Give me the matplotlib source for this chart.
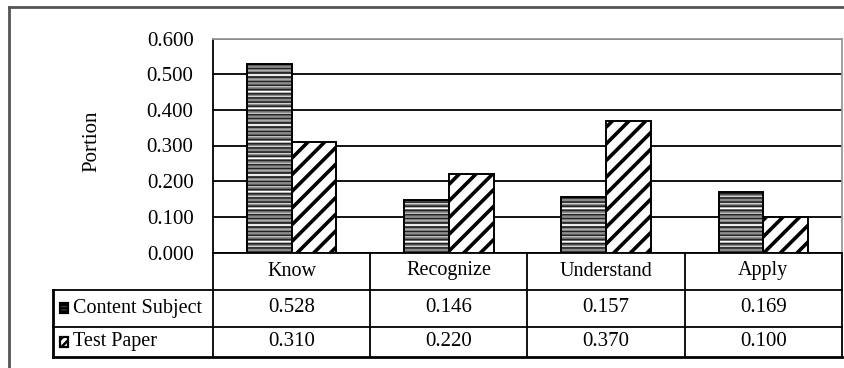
import matplotlib
matplotlib.use("Agg")
import matplotlib.pyplot as plt
from matplotlib.patches import Rectangle
from matplotlib.lines import Line2D
import matplotlib.transforms as mtransforms
import numpy as np

categories = ["Know", "Recognize", "Understand", "Apply"]
series_names = ["Content Subject", "Test Paper"]
content_subject = [0.528, 0.146, 0.157, 0.169]
test_paper = [0.310, 0.220, 0.370, 0.100]
yticks = [0.0, 0.1, 0.2, 0.3, 0.4, 0.5, 0.6]

plt.rcParams['font.family'] = ['Liberation Serif', 'DejaVu Serif']

W, H = 845, 368
fig = plt.figure(figsize=(W / 100, H / 100), dpi=100)
ax_l, ax_r, ax_t, ax_b = 213, 842, 38.5, 252.5
ax = fig.add_axes([ax_l / W, 1 - ax_b / H, (ax_r - ax_l) / W, (ax_b - ax_t) / H])

x = np.arange(len(categories))
bw = 0.285

# Content Subject: grey with irregular white and black horizontal stripes
plt.rcParams['hatch.linewidth'] = 1.2
ax.bar(x - bw / 2, content_subject, bw, facecolor='#8a8a8a', edgecolor='white',
       hatch='---', linewidth=0, zorder=3)
ax.bar(x - bw / 2, content_subject, bw, facecolor='none', edgecolor='#222222',
       hatch='----', linewidth=0, zorder=3.1)
ax.bar(x - bw / 2, content_subject, bw, facecolor='none', edgecolor='black',
       linewidth=1.4, zorder=3.2)
plt.rcParams['hatch.linewidth'] = 2.6
ax.bar(x + bw / 2, test_paper, bw, facecolor='white', edgecolor='black',
       hatch='//', linewidth=1.4, zorder=3)

ax.set_xlim(-0.5, len(categories) - 0.5)
ax.set_ylim(0, 0.6)
ax.set_yticks(yticks)
ax.set_yticklabels([f"{v:.3f}" for v in yticks], fontsize=15)
ax.tick_params(axis='y', length=0, pad=14)
ax.set_xticks([])
ax.yaxis.grid(True, color='black', linewidth=1.3, zorder=0)
ax.set_axisbelow(True)
for s in ['top', 'right']:
    ax.spines[s].set_color('#9a9a9a')
    ax.spines[s].set_linewidth(1.3)
ax.spines['left'].set_linewidth(1.3)
ax.spines['bottom'].set_linewidth(1.3)

ax.text(-0.192, 0.52, "Portion", transform=ax.transAxes, rotation=90,
        ha='center', va='center', fontsize=15)

# table below the axes: x in data units, y in axes units
tr = mtransforms.blended_transform_factory(ax.transData, ax.transAxes)
ax_h = ax_b - ax_t
px_per_unit = (ax_r - ax_l) / len(categories)
def ypx(p):
    return -(p - ax_b) / ax_h
def xpx(p):
    return -0.5 + (p - ax_l) / px_per_unit

row_edges = [ypx(252.5), ypx(289.5), ypx(326.5), ypx(357)]
x_left_tab = xpx(53)
x_min, x_max = -0.5, len(categories) - 0.5

lk = dict(color='black', linewidth=1.3, transform=tr, clip_on=False)
ax.add_line(Line2D([x_left_tab, x_max], [row_edges[1]] * 2, **lk))
ax.add_line(Line2D([x_left_tab, x_max], [row_edges[2]] * 2, **lk))
ax.add_line(Line2D([x_left_tab, x_max], [row_edges[3]] * 2,
                   color='black', linewidth=2.0, transform=tr, clip_on=False))
for i in range(len(categories) + 1):
    ax.add_line(Line2D([x_min + i] * 2, [row_edges[0], row_edges[3]], **lk))
ax.add_line(Line2D([x_left_tab] * 2, [row_edges[1], row_edges[3]],
                   color='black', linewidth=2.0, transform=tr, clip_on=False))

def mid(a, b):
    return (a + b) / 2

for i, c in enumerate(categories):
    ax.text(x[i], mid(row_edges[0], row_edges[1]), c, transform=tr, ha='center',
            va='center', fontsize=14.5, clip_on=False)
    ax.text(x[i], mid(row_edges[1], row_edges[2]), f"{content_subject[i]:.3f}",
            transform=tr, ha='center', va='center', fontsize=15, clip_on=False)
    ax.text(x[i], mid(row_edges[2], row_edges[3]), f"{test_paper[i]:.3f}",
            transform=tr, ha='center', va='center', fontsize=15, clip_on=False)

# legend keys and series names
key_w = 8 / px_per_unit
key_h = 10 / ax_h
key_x = xpx(60)
plt.rcParams['hatch.linewidth'] = 1.8
for j, (name, hatch, fc) in enumerate(zip(series_names, ['-----', '////'], ['#555555', 'white'])):
    yc = mid(row_edges[j + 1], row_edges[j + 2])
    ax.add_patch(Rectangle((key_x, yc - key_h / 2), key_w, key_h, transform=tr,
                           facecolor=fc, edgecolor='black', hatch=hatch,
                           linewidth=1.6, clip_on=False))
    ax.text(xpx(73), yc, name, transform=tr, ha='left', va='center',
            fontsize=14.5, clip_on=False)

# outer border (top and left)
fig.add_artist(Line2D([9 / W, 1], [1 - 7 / H] * 2, color='#555555', linewidth=2,
                      transform=fig.transFigure))
fig.add_artist(Line2D([9 / W] * 2, [0, 1 - 7 / H], color='#555555', linewidth=2,
                      transform=fig.transFigure))

fig.savefig("out.png", dpi=100)
